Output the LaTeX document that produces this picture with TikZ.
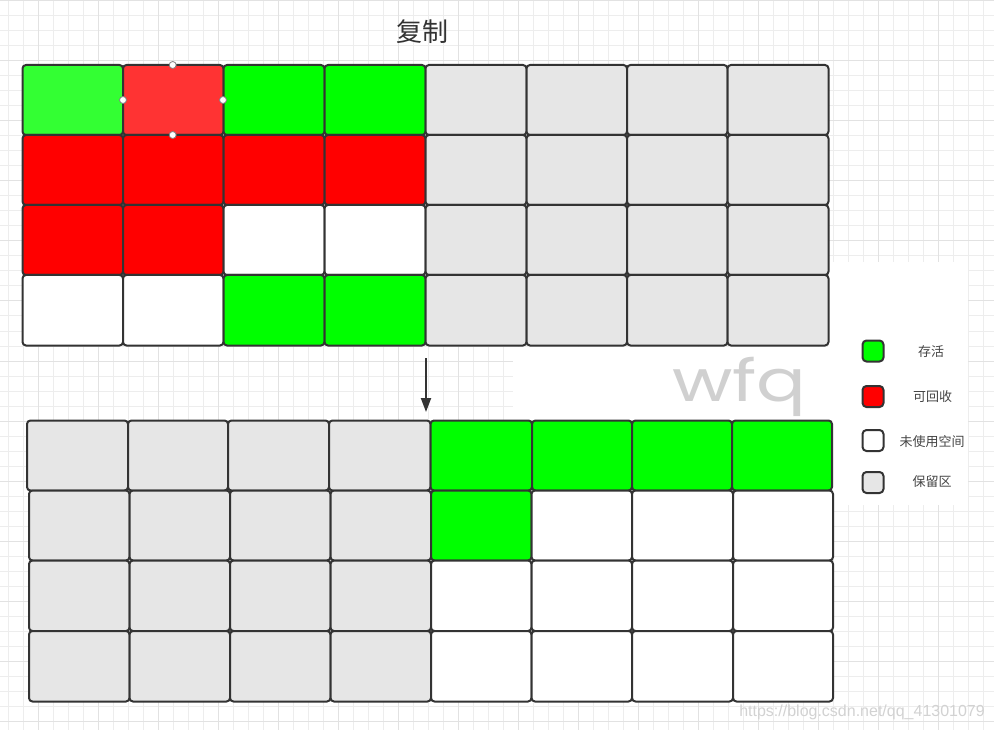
\documentclass[tikz,border=0pt]{standalone}
\usepackage{fontspec}
\newfontfamily\cjk{Noto Sans CJK SC}
\newfontfamily\wmfont{Poppins}
\newfontfamily\urlwm{Liberation Sans}
\usetikzlibrary{arrows.meta}
\definecolor{gminor}{HTML}{EDEDED}
\definecolor{gmajor}{HTML}{E2E2E2}
\definecolor{edge}{HTML}{333333}
\definecolor{cG}{HTML}{00FF00}
\definecolor{cLG}{HTML}{33FF33}
\definecolor{cR}{HTML}{FF0000}
\definecolor{cLR}{HTML}{FF3333}
\definecolor{cGr}{HTML}{E6E6E6}
\definecolor{cW}{HTML}{FFFFFF}
\definecolor{txt}{HTML}{444444}
\definecolor{wmgrey}{HTML}{D0D0D0}
\tikzset{
  cellbox/.style={draw=edge, line width=2pt, rounded corners=3.5pt, inner sep=0pt, outer sep=0pt},
  legbox/.style={draw=edge, line width=2pt, rounded corners=4pt, inner sep=0pt, minimum width=21pt, minimum height=21pt},
  legtext/.style={text=txt, font=\cjk\fontsize{13}{15}\selectfont, inner sep=0pt},
  handle/.style={circle, draw=gray, fill=white, line width=0.8pt, minimum size=7pt, inner sep=0pt},
  flow/.style={draw=edge, line width=2pt, -{Triangle[width=10pt,length=14pt]}},
}
\newcommand{\mycell}[6]{%
  \node[cellbox, fill=#6, minimum width={(#4-#2)*1pt}, minimum height={(#5-#3)*1pt}] (#1) at ({(#2+#4)/2},{(#3+#5)/2}) {};}
\begin{document}
\begin{tikzpicture}[x=1pt,y=-1pt]
\useasboundingbox (0,0) rectangle (994,730);
\fill[white] (0,0) rectangle (994,730);
% background grid
\foreach \gx in {8.3,23.3,...,994} \draw[gminor, line width=1pt] (\gx,0) -- (\gx,730);
\foreach \gy in {1,16,...,730} \draw[gminor, line width=1pt] (0,\gy) -- (994,\gy);
\foreach \gx in {38.3,98.3,...,994} \draw[gmajor, line width=1pt] (\gx,0) -- (\gx,730);
\foreach \gy in {1,61,...,730} \draw[gmajor, line width=1pt] (0,\gy) -- (994,\gy);
% white areas
\fill[white] (828,262) rectangle (968,505);
\fill[white] (513,347) rectangle (968,421);
% title
\node[text=edge, font=\cjk\fontsize{26}{30}\selectfont, inner sep=0pt] (title) at (422,32) {复制};
% top grid
\foreach \c/\xa/\xb/\fa/\fb/\fc/\fd in {
  1/22.5/123/cLG/cR/cR/cW,
  2/123/223.5/cLR/cR/cR/cW,
  3/223.5/324.5/cG/cR/cW/cG,
  4/324.5/425.5/cG/cR/cW/cG,
  5/425.5/526.5/cGr/cGr/cGr/cGr,
  6/526.5/627/cGr/cGr/cGr/cGr,
  7/627/727.5/cGr/cGr/cGr/cGr,
  8/727.5/828.5/cGr/cGr/cGr/cGr}{
  \mycell{t1\c}{\xa}{65}{\xb}{135}{\fa}
  \mycell{t2\c}{\xa}{135}{\xb}{205}{\fb}
  \mycell{t3\c}{\xa}{205}{\xb}{275}{\fc}
  \mycell{t4\c}{\xa}{275}{\xb}{345.5}{\fd}
}
% selection handles
\node[handle] (hT) at (172.7,65) {};
\node[handle] (hL) at (123,100) {};
\node[handle] (hR) at (223,100) {};
\node[handle] (hB) at (172.7,135) {};
% bottom grid
\foreach \c/\xa/\xb/\fa in {
  1/27/128/cGr, 2/128/228/cGr, 3/228/329/cGr, 4/329/430.5/cGr,
  5/430.5/532/cG, 6/532/632/cG, 7/632/732/cG, 8/732/832/cG}{
  \mycell{b1\c}{\xa}{420.5}{\xb}{490.5}{\fa}
}
\foreach \c/\xa/\xb/\fb/\fc in {
  1/29/129.5/cGr/cGr, 2/129.5/230/cGr/cGr, 3/230/330.5/cGr/cGr, 4/330.5/431/cGr/cGr,
  5/431/531.5/cG/cW, 6/531.5/632/cW/cW, 7/632/733/cW/cW, 8/733/833/cW/cW}{
  \mycell{b2\c}{\xa}{490.5}{\xb}{560.5}{\fb}
  \mycell{b3\c}{\xa}{560.5}{\xb}{631}{\fc}
  \mycell{b4\c}{\xa}{631}{\xb}{701.5}{\fc}
}
% arrow
\coordinate (aS) at (426,358);
\coordinate (aE) at (426,412);
\draw[flow] (aS) -- (aE);
% watermark
\node[text=wmgrey, font=\wmfont\fontsize{58}{64}\selectfont, inner sep=0pt, xscale=1.27] (wfq) at (739.5,387) {wfq};
% legend
\node[legbox, fill=cG] (lg1) at (873,351) {};
\node[legbox, fill=cR] (lg2) at (873,396.5) {};
\node[legbox, fill=cW] (lg3) at (873,440.5) {};
\node[legbox, fill=cGr] (lg4) at (873,482.5) {};
\node[legtext] (lt1) at (931,351.5) {存活};
\node[legtext] (lt2) at (932.5,397) {可回收};
\node[legtext] (lt3) at (932,441.5) {未使用空间};
\node[legtext] (lt4) at (932,481.5) {保留区};
% url watermark
\node[text=gray!35, font=\urlwm\fontsize{16}{18}\selectfont, inner sep=0pt, anchor=base east] (url) at (985,716) {https://blog.csdn.net/qq\_41301079};
\end{tikzpicture}
\end{document}
